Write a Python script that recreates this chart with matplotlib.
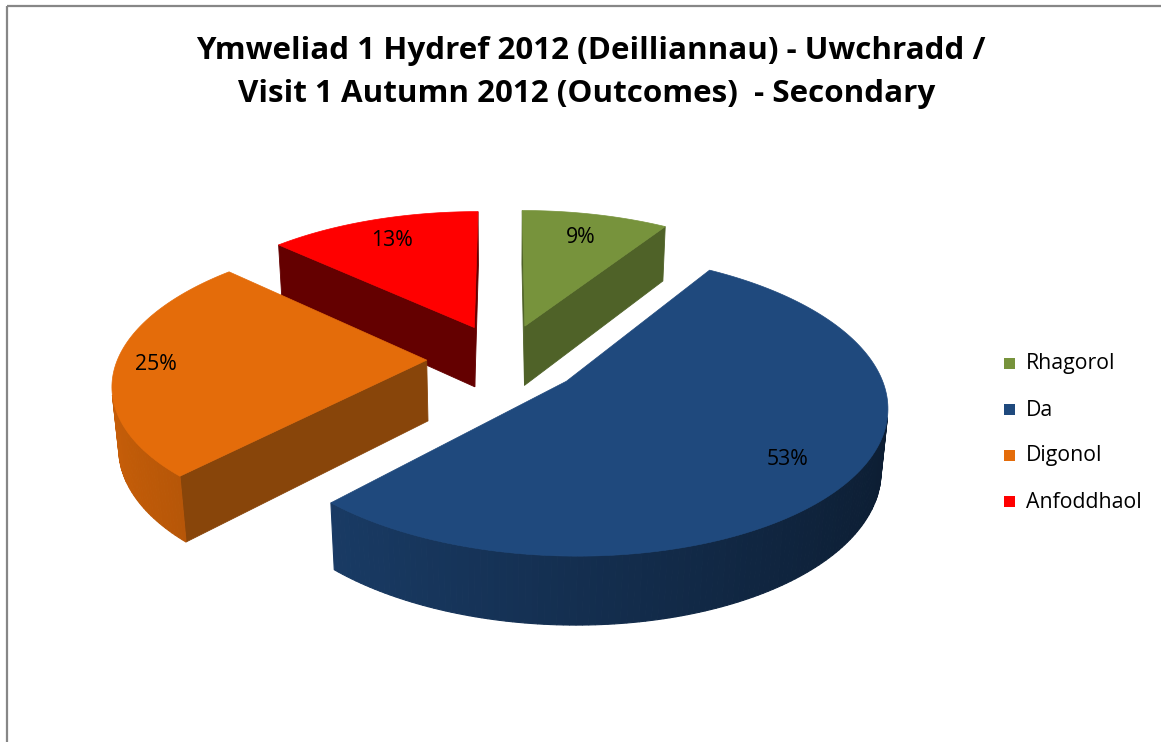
import numpy as np
import matplotlib
matplotlib.use("Agg")
import matplotlib.pyplot as plt
from matplotlib.patches import Polygon, Rectangle
from matplotlib.colors import to_rgb

# ---- data ----
categories = ["Rhagorol", "Da", "Digonol", "Anfoddhaol"]
values = [9, 53, 25, 13]
title_line1 = "Ymweliad 1 Hydref 2012 (Deilliannau) - Uwchradd /"
title_line2 = "Visit 1 Autumn 2012 (Outcomes)  - Secondary"

# ---- styles ----
top_colors = ["#77933C", "#1F497D", "#E46C0A", "#FF0000"]
side_colors = ["#4F6228", "#17375E", "#88450A", "#640000"]
label_radius = [0.77, 0.80, 0.87, 0.79]
FONT = ["Open Sans", "DejaVu Sans"]

# ---- 3D view parameters ----
ALPHA = np.deg2rad(27.3)
DIST = 6.0
SCALE = 309.0
CX, CY = 504.0, 359.0
EXPLODE = 0.25
THICK = 0.225
sa, ca = np.sin(ALPHA), np.cos(ALPHA)
CAM = np.array([0.0, -DIST * ca, DIST * sa])


def project(u, w, h):
    yc = w * sa + h * ca
    zc = DIST + w * ca - h * sa
    f = SCALE * DIST
    return CX + f * u / zc, CY - f * yc / zc


def visible(normal, point):
    return np.dot(normal, CAM - np.asarray(point)) > 0


fig = plt.figure(figsize=(11.61, 7.42), dpi=100)
ax = fig.add_axes([0, 0, 1, 1])
ax.set_xlim(0, 1161)
ax.set_ylim(742, 0)
ax.axis("off")

total = float(sum(values))
fracs = np.array(values) / total
ends = np.cumsum(fracs) * 360.0
starts = ends - fracs * 360.0

slices = []
for i in range(len(values)):
    t0, t1 = starts[i], ends[i]
    mid = np.deg2rad((t0 + t1) / 2)
    ou, ow = EXPLODE * np.sin(mid), EXPLODE * np.cos(mid)
    depth = DIST + (ow + 0.5 * np.cos(mid)) * ca
    slices.append((depth, i, t0, t1, mid, ou, ow))

# draw far slices first
for depth, i, t0, t1, mid, ou, ow in sorted(slices, reverse=True):
    top_rgb = np.array(to_rgb(top_colors[i]))
    n = max(3, int(abs(t1 - t0)) + 1)
    th = np.deg2rad(np.linspace(t0, t1, n))
    au = ou + np.sin(th)
    aw = ow + np.cos(th)

    # radial faces
    for phi, sgn in ((np.deg2rad(t0), -1), (np.deg2rad(t1), 1)):
        normal = np.array([sgn * np.cos(phi), -sgn * np.sin(phi), 0.0])
        eu, ew = ou + np.sin(phi), ow + np.cos(phi)
        center = [(ou + eu) / 2, (ow + ew) / 2, -THICK / 2]
        if visible(normal, center):
            pts = [project(ou, ow, 0), project(eu, ew, 0),
                   project(eu, ew, -THICK), project(ou, ow, -THICK)]
            ax.add_patch(Polygon(pts, closed=True, fc=side_colors[i],
                                 ec=side_colors[i], lw=0.6))

    # outer rim
    for j in range(n - 1):
        tm = (th[j] + th[j + 1]) / 2
        normal = np.array([np.sin(tm), np.cos(tm), 0.0])
        center = [ou + np.sin(tm), ow + np.cos(tm), -THICK / 2]
        if visible(normal, center):
            k = np.clip(0.637 - 0.237 * np.sin(tm), 0, 1)
            col = tuple(np.clip(top_rgb * k, 0, 1))
            pts = [project(au[j], aw[j], 0), project(au[j + 1], aw[j + 1], 0),
                   project(au[j + 1], aw[j + 1], -THICK),
                   project(au[j], aw[j], -THICK)]
            ax.add_patch(Polygon(pts, closed=True, fc=col, ec=col, lw=0.8))

    # top face
    pts = [project(ou, ow, 0)] + [project(a, b, 0) for a, b in zip(au, aw)]
    ax.add_patch(Polygon(pts, closed=True, fc=top_colors[i],
                         ec=top_colors[i], lw=0.5))

    # percentage label
    r = label_radius[i]
    lx, ly = project(ou + r * np.sin(mid), ow + r * np.cos(mid), 0)
    ax.text(lx, ly, f"{values[i] / total * 100:.0f}%", ha="center",
            va="center", fontsize=15.3, family=FONT, color="black")

# legend
for i, cat in enumerate(categories):
    y = 364 + i * 46
    ax.add_patch(Rectangle((1004, y - 6), 11, 11, fc=top_colors[i], ec="none"))
    ax.text(1026, y, cat, ha="left", va="center", fontsize=15.3,
            family=FONT, color="black")

# title
ax.text(591, 59, title_line1, ha="center", va="baseline", fontsize=22.6,
        fontweight="bold", family=FONT, color="black")
ax.text(587, 102, title_line2, ha="center", va="baseline", fontsize=22.6,
        fontweight="bold", family=FONT, color="black")

# chart border
ax.add_patch(Rectangle((7, 6), 1200, 800, fill=False, ec="#878787", lw=1.6))

fig.savefig("out.png", dpi=100)
